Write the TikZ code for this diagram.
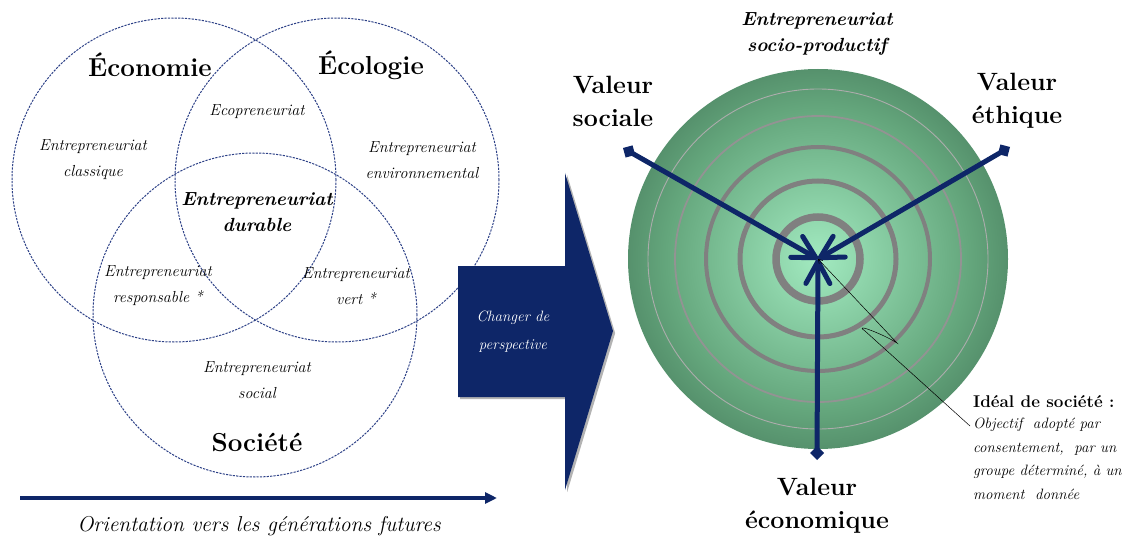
\documentclass[tikz,border=0pt]{standalone}
\usepackage{xcolor}
\usepackage{tikz}
\usetikzlibrary{arrows.meta,positioning,calc,shadows}

\definecolor{navyc}{RGB}{14,38,104}
\definecolor{vennc}{RGB}{45,65,135}
\definecolor{sphin}{RGB}{162,234,192}
\definecolor{sphmid}{RGB}{100,166,124}
\definecolor{sphout}{RGB}{58,104,78}
\pgfdeclareradialshading{sphere}{\pgfpoint{0bp}{0bp}}{color(0bp)=(sphin); color(20bp)=(sphmid); color(35bp)=(sphout); color(50bp)=(sphout)}

\begin{document}
\begin{tikzpicture}[x=1pt,y=-1pt,
  venn/.style={circle,draw=vennc,line width=1pt,dash pattern=on 2.2pt off 1.2pt,minimum size=324pt,inner sep=0pt},
  big/.style={font=\fontsize{26}{28}\selectfont\bfseries},
  sml/.style={font=\fontsize{16}{26}\selectfont\itshape,align=center},
  bdi/.style={font=\fontsize{19}{26}\selectfont\bfseries\itshape,align=center},
  val/.style={font=\fontsize{25}{33}\selectfont\bfseries,align=center},
  vline/.style={navyc,line width=5pt,{Diamond[length=14pt,width=14pt]}-{Straight Barb[length=22pt,width=24pt,round]}}]
\useasboundingbox (0,0) rectangle (1127,540);
\node[venn] (eco) at (174,180) {};
\node[venn] (ecl) at (337,180) {};
\node[venn] (soc) at (255,315) {};
\node[big] (leco) at (150,65) {Économie};
\node[big] (lecl) at (371,65) {Écologie};
\node[big] (lsoc) at (257,443) {Société};
\node[sml] (ecop) at (257,112) {Ecopreneuriat};
\foreach \nm/\x/\y/\txt in {clas/93/160/{Entrepreneuriat\\classique},
    env/422/160/{Entrepreneuriat\\environnemental},
    resp/158/286/{Entrepreneuriat\\responsable *},
    vert/356/286/{Entrepreneuriat\\vert *},
    socl/257/380/{Entrepreneuriat\\social}}
  \node[sml] (\nm) at (\x,\y) {\txt};
\node[bdi] (dur) at (257,212) {Entrepreneuriat\\durable};
\coordinate (ostart) at (20,498);
\coordinate (oend) at (497,498);
\draw[navyc,line width=3.5pt,-{Triangle[length=12pt,width=11pt]}] (ostart) -- (oend);
\node[font=\fontsize{21.5}{24}\selectfont\itshape] (orient) at (259,526) {Orientation vers les générations futures};
\fill[navyc,drop shadow={opacity=0.6}] (458,266) -- (565,266) -- (565,173) -- (613,331)
  -- (565,490) -- (565,397) -- (458,397) -- cycle;
\node[font=\fontsize{15}{28}\selectfont\itshape,text=white,align=center] (chg) at (513,332) {Changer de\\perspective};
\node[circle,minimum size=380pt,inner sep=0pt,shade,shading=sphere] (tgt) at (818,259) {};
\foreach \r/\w/\c in {42/7.5/gray,78/5/gray,112/4/gray,143/1.8/gray!85,170/0.9/gray!65}
  \draw[\c,line width=\w pt] (tgt.center) circle[radius=\r pt];
\coordinate (ctr) at (818,259);
\coordinate (dsoc) at (623,148);
\coordinate (deth) at (1010,147);
\coordinate (deco) at (817,460);
\foreach \d in {dsoc,deth,deco}
  \draw[vline] (\d) -- (ctr);
\node[val] (vsoc) at (613,101) {Valeur\\sociale};
\node[val] (veth) at (1017,101) {Valeur\\éthique};
\node[val] (veco) at (817,506) {Valeur\\économique};
\node[bdi] (esp) at (817,34) {Entrepreneuriat\\socio-productif};
\node[font=\fontsize{17}{18}\selectfont\bfseries,anchor=west,inner sep=0pt] (ideal) at (973,402) {Idéal de société :};
\node[font=\fontsize{15}{23.5}\selectfont\itshape,align=left,anchor=north west,inner sep=0pt] (desc) at (973,418)
  {Objectif\ \ adopté par\\consentement,\ \ par un\\groupe déterminé, à un\\moment\ \ donnée};
\coordinate (lnk) at (970,426);
\draw[black,line width=0.5pt,-{Straight Barb[length=4pt,width=5pt]}] (lnk) -- (865,331)
  .. controls (852,322) and (885,335) .. (897,343) -- (ctr);
\end{tikzpicture}
\end{document}
